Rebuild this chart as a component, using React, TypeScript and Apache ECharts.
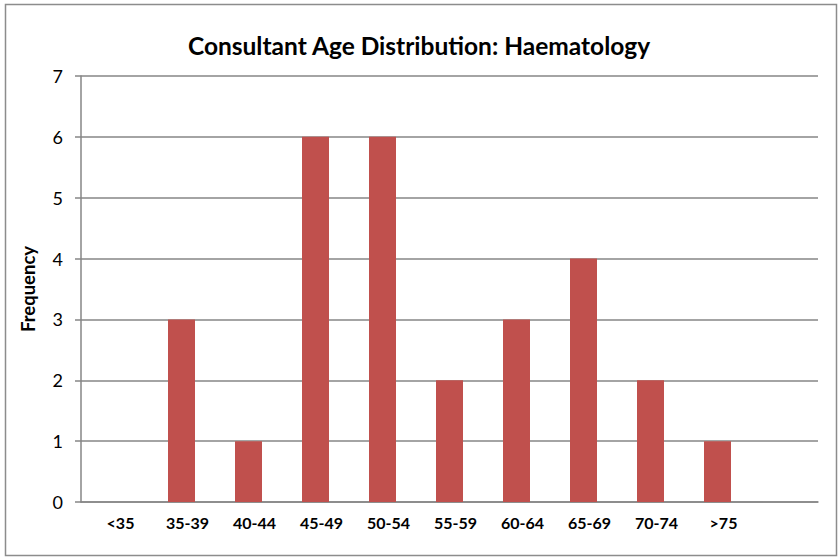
import React, { useEffect, useRef } from "react";
import * as echarts from "echarts";

const categories = ["<35", "35-39", "40-44", "45-49", "50-54", "55-59", "60-64", "65-69", "70-74", ">75", ""];
const frequency = [0, 3, 1, 6, 6, 2, 3, 4, 2, 1, null];
const titleText = "Consultant Age Distribution: Haematology";
const yName = "Frequency";

export default function App() {
  const ref = useRef<HTMLDivElement>(null);
  useEffect(() => {
    const chart = echarts.init(ref.current!, null, { renderer: "svg" });
    const font = "Lato, Open Sans, sans-serif";
    chart.setOption({
      animation: false,
      backgroundColor: "#ffffff",
      title: {
        text: titleText,
        left: "center",
        top: 28,
        textStyle: { fontFamily: font, fontWeight: "bold", fontSize: 24.5, color: "#000" },
      },
      graphic: [
        {
          type: "rect",
          shape: { x: 5.5, y: 4.5, width: 831, height: 551 },
          style: { fill: "none", stroke: "#8c8c8c", lineWidth: 1.5 },
          silent: true,
        },
      ],
      grid: { left: 81, right: 20, top: 76, bottom: 55, containLabel: false },
      xAxis: {
        type: "category",
        data: categories,
        boundaryGap: true,
        axisLine: { show: true, lineStyle: { color: "#868686", width: 1.5 } },
        axisTick: { show: false },
        axisLabel: {
          fontFamily: font,
          fontWeight: "bold",
          fontSize: 16,
          color: "#000",
          margin: 12,
          interval: 0,
          padding: [0, 0, 0, 12],
        },
        splitLine: { show: false },
      },
      yAxis: {
        type: "value",
        min: 0,
        max: 7,
        interval: 1,
        name: yName,
        nameLocation: "middle",
        nameGap: 44,
        nameTextStyle: { fontFamily: font, fontWeight: "bold", fontSize: 18.5, color: "#000" },
        axisLine: { show: true, lineStyle: { color: "#868686", width: 1.5 } },
        axisTick: { show: true, length: 6, lineStyle: { color: "#868686", width: 1.5 } },
        axisLabel: { fontFamily: font, fontSize: 18, color: "#000", margin: 18 },
        splitLine: { show: true, lineStyle: { color: "#868686", width: 1.5 } },
      },
      series: [
        {
          type: "bar",
          data: frequency,
          barWidth: 27,
          itemStyle: { color: "#C0504D" },
        },
      ],
    });
    return () => chart.dispose();
  }, []);
  return (
    <div style={{ position: "fixed", left: 0, top: 0, width: 838, height: 557, background: "#fff" }}>
      <div ref={ref} style={{ width: 838, height: 557 }} />
    </div>
  );
}
